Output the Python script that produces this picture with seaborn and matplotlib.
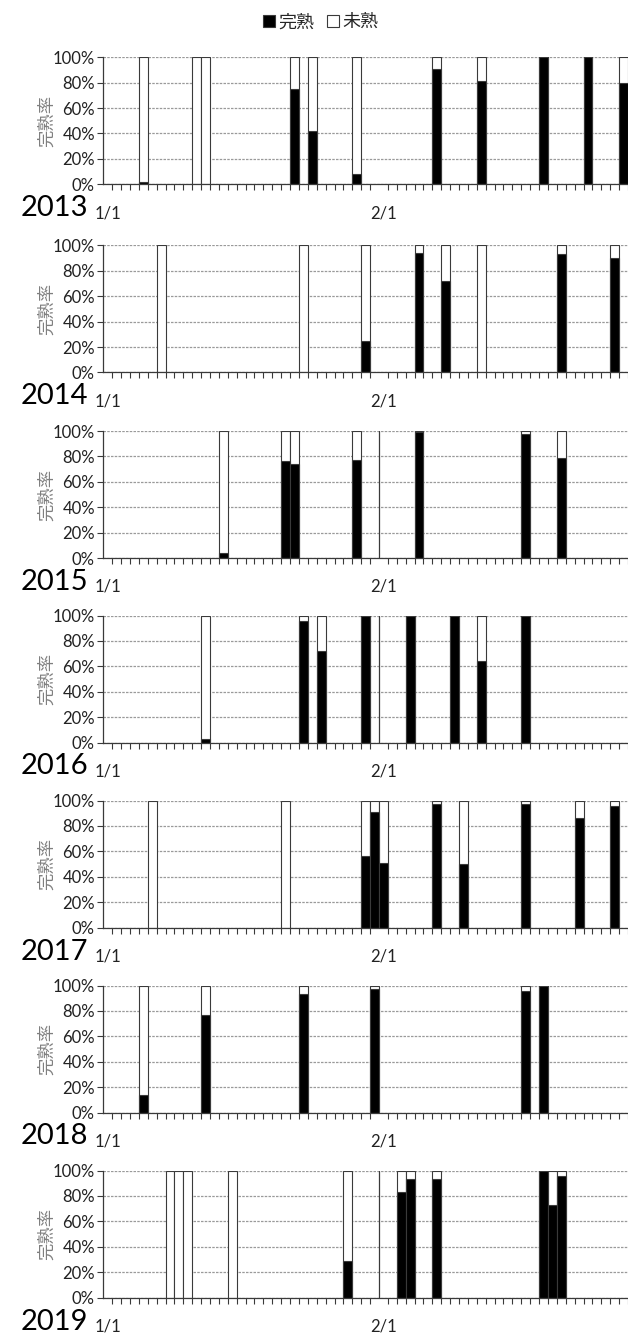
import matplotlib

matplotlib.use("Agg")
import matplotlib.pyplot as plt
import matplotlib.transforms as mtransforms
import pandas as pd
import seaborn as sns
from matplotlib.patches import Patch
from matplotlib.ticker import FuncFormatter, MultipleLocator


years = [2013, 2014, 2015, 2016, 2017, 2018, 2019]

# observation dates and share of fully ripe fruit (%), the rest is unripe
dates_2013 = ["1/5", "1/11", "1/12", "1/22", "1/24", "1/29", "2/7", "2/12", "2/19", "2/24", "2/28"]
ripe_2013 = [2, 0, 0, 75, 42, 8, 91, 81, 100, 100, 80]

dates_2014 = ["1/7", "1/23", "1/30", "2/5", "2/8", "2/12", "2/21", "2/27"]
ripe_2014 = [0, 0, 25, 94, 72, 0, 93, 90]

dates_2015 = ["1/14", "1/21", "1/22", "1/29", "2/5", "2/17", "2/21"]
ripe_2015 = [4, 76, 74, 77, 99, 98, 79]

dates_2016 = ["1/12", "1/23", "1/25", "1/30", "2/4", "2/9", "2/12", "2/17"]
ripe_2016 = [3, 96, 72, 100, 100, 100, 64, 100]

dates_2017 = ["1/6", "1/21", "1/30", "1/31", "2/1", "2/7", "2/10", "2/17", "2/23", "2/27"]
ripe_2017 = [0, 0, 56, 91, 51, 97, 50, 97, 86, 96]

dates_2018 = ["1/5", "1/12", "1/23", "1/31", "2/17", "2/19"]
ripe_2018 = [14, 77, 93, 97, 96, 100]

dates_2019 = ["1/8", "1/9", "1/10", "1/15", "1/28", "2/3", "2/4", "2/7", "2/19", "2/20", "2/21"]
ripe_2019 = [0, 0, 0, 0, 29, 83, 93, 93, 100, 73, 96]

# years where a bare divider line shows up at the start of February
divider_years = [2015, 2016, 2019]

day_labels = [f"1/{d}" for d in range(1, 32)] + [f"2/{d}" for d in range(1, 29)]
shown_labels = ["1/1", "2/1"]

EDGE = "#3a3a3a"
FONT = ["Lato", "Noto Sans CJK JP", "DejaVu Sans"]


def main() -> None:
    sns.set_style("white")
    plt.rcParams["font.family"] = FONT

    data = {
        2013: (dates_2013, ripe_2013),
        2014: (dates_2014, ripe_2014),
        2015: (dates_2015, ripe_2015),
        2016: (dates_2016, ripe_2016),
        2017: (dates_2017, ripe_2017),
        2018: (dates_2018, ripe_2018),
        2019: (dates_2019, ripe_2019),
    }

    W, H = 628, 1333
    fig = plt.figure(figsize=(W / 100, H / 100), dpi=100)

    left_px, day_px = 103.3, 9.02
    tops_px = [57.3, 245.5, 431.0, 615.5, 800.5, 985.5, 1170.5]
    height_px = 127.0
    right_lim = -0.5 + (W - left_px) / day_px

    label_shift = mtransforms.ScaledTranslation(0.045, 0, fig.dpi_scale_trans)

    for year, top in zip(years, tops_px):
        ax = fig.add_axes([left_px / W, 1 - (top + height_px) / H,
                           1 - left_px / W, height_px / H])
        dates, ripe = data[year]
        df = pd.DataFrame({"date": dates, "ripe": ripe})
        df["total"] = 100

        sns.barplot(data=df, x="date", y="total", order=day_labels, color="white",
                    saturation=1, edgecolor=EDGE, linewidth=0.8, width=1.0,
                    errorbar=None, ax=ax, zorder=3)
        sns.barplot(data=df[df["ripe"] > 0], x="date", y="ripe", order=day_labels,
                    color="black", saturation=1, edgecolor=EDGE, linewidth=0.8,
                    width=1.0, errorbar=None, ax=ax, zorder=4)

        if year in divider_years:
            ax.axvline(day_labels.index("2/1") - 0.5, color=EDGE, lw=0.9, zorder=4)

        ax.set_xlim(-0.5, right_lim)
        ax.set_ylim(0, 100)
        ax.set_xlabel("")
        ax.set_ylabel("完熟率", color="#7f7f7f", fontsize=12.5)
        ax.yaxis.set_label_coords(-0.092, 0.5)

        ax.yaxis.set_major_locator(MultipleLocator(20))
        ax.yaxis.set_major_formatter(FuncFormatter(lambda v, _: f"{v:.0f}%"))
        ax.yaxis.grid(True, color="#9a9a9a", linestyle=(0, (2, 1)), linewidth=0.9, zorder=0)
        ax.xaxis.grid(False)
        ax.set_axisbelow(True)

        ax.set_xticks([day_labels.index(s) - 0.5 for s in shown_labels], labels=shown_labels)
        ax.set_xticks([i - 0.5 for i in range(len(day_labels) + 1)], minor=True)
        ax.tick_params(axis="x", which="major", length=7, width=0.8, color=EDGE,
                       pad=8, labelsize=12, labelcolor="#222222")
        ax.tick_params(axis="x", which="minor", length=4, width=0.8, color=EDGE, bottom=True)
        ax.tick_params(axis="y", length=4, width=0.8, color=EDGE, pad=2,
                       labelsize=12, labelcolor="#222222", left=True)
        for lbl in ax.get_xticklabels():
            lbl.set_transform(lbl.get_transform() + label_shift)

        for side in ["top", "right"]:
            ax.spines[side].set_visible(False)
        for side in ["left", "bottom"]:
            ax.spines[side].set_color(EDGE)
            ax.spines[side].set_linewidth(0.9)
            ax.spines[side].set_zorder(5)

        fig.text(88 / W, 1 - (top + height_px + 32) / H, str(year), fontsize=21,
                 ha="right", va="baseline", color="black")

    handles = [Patch(facecolor="black", edgecolor=EDGE, linewidth=0.8),
               Patch(facecolor="white", edgecolor=EDGE, linewidth=0.8)]
    fig.legend(handles, ["完熟", "未熟"], loc="center", bbox_to_anchor=(0.51, 1 - 22 / H),
               ncol=2, frameon=False, fontsize=13, handlelength=0.7, handleheight=0.7,
               handletextpad=0.15, columnspacing=0.7)

    fig.savefig("out.png", dpi=100)
    plt.close(fig)


if __name__ == "__main__":
    main()
